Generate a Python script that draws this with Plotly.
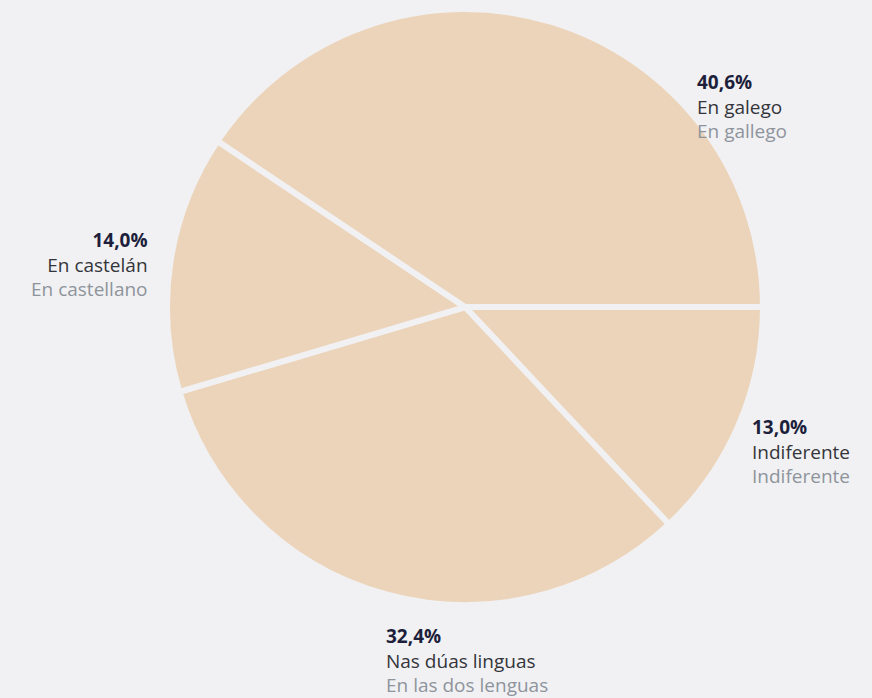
import plotly.graph_objects as go

# clockwise order starting at 3 o'clock
categories_gl = ["Indiferente", "Nas dúas linguas", "En castelán", "En galego"]
categories_es = ["Indiferente", "En las dos lenguas", "En castellano", "En gallego"]
values = [13.0, 32.4, 14.0, 40.6]
pct_labels = ["13,0%", "32,4%", "14,0%", "40,6%"]

bg = "#f1f1f3"
slice_color = "#ecd4ba"

fig = go.Figure(go.Pie(
    values=values,
    labels=categories_gl,
    sort=False,
    direction="clockwise",
    rotation=90,
    marker=dict(colors=[slice_color] * 4, line=dict(color=bg, width=6)),
    textinfo="none",
    hoverinfo="label+percent",
    domain=dict(x=[0.1915, 0.875], y=[0.1332, 0.9871]),
    showlegend=False,
))

# label positions (paper coords) and anchors
pos = [
    (750 / 872, 1 - 412 / 698, "left"),
    (384 / 872, 1 - 621 / 698, "left"),
    (150 / 872, 1 - 225 / 698, "right"),
    (695 / 872, 1 - 67 / 698, "left"),
]

for i, (x, y, anchor) in enumerate(pos):
    txt = (f"<b><span style='color:#1d1f3b'>{pct_labels[i]}</span></b><br>"
           f"<span style='color:#34353a'>{categories_gl[i]}</span><br>"
           f"<span style='color:#8e949c'>{categories_es[i]}</span>")
    fig.add_annotation(
        x=x, y=y, xref="paper", yref="paper",
        xanchor=anchor, yanchor="top", align=anchor,
        text=txt, showarrow=False,
        font=dict(family="Open Sans", size=19),
    )

fig.update_layout(
    width=872, height=698,
    margin=dict(l=0, r=0, t=0, b=0),
    paper_bgcolor=bg, plot_bgcolor=bg,
)

fig.write_html(
    "out.html",
    config={"displayModeBar": False},
    post_script="document.body.style.margin='0';document.body.style.background='#f1f1f3';document.body.style.overflow='hidden';",
)
